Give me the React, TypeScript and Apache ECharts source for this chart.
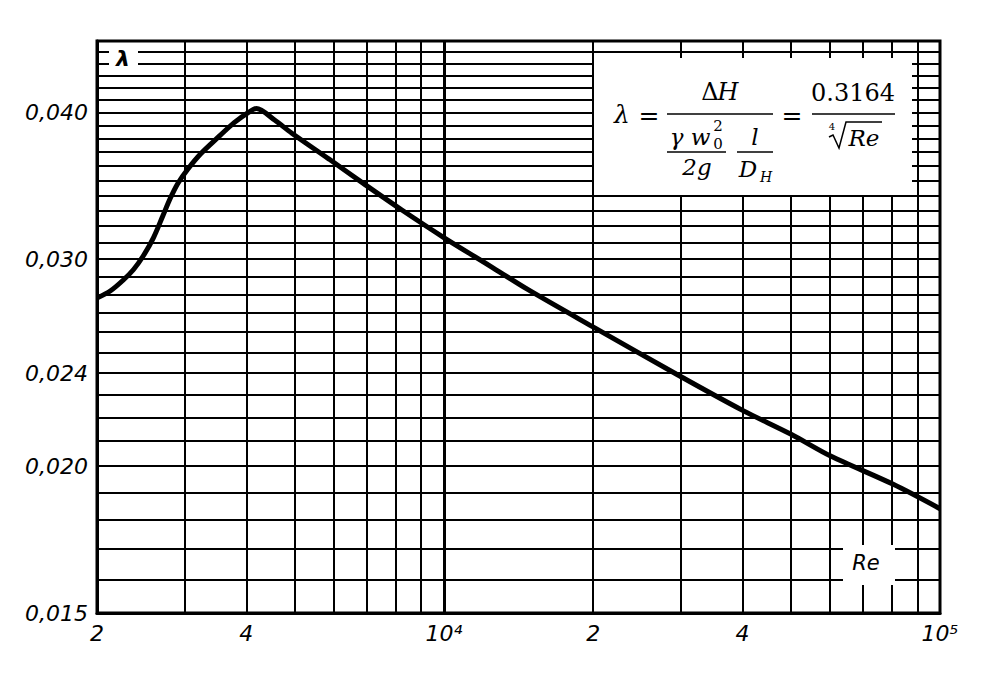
import React, { useEffect, useRef } from 'react';
import * as echarts from 'echarts';

// Reynolds number (x) and friction factor λ (y)
const reynolds = [2000, 2130, 2260, 2370, 2480, 2600, 2710, 2810, 2910, 3050, 3240, 3510, 3780, 4040, 4190, 4560, 4940, 5870, 6950, 8260, 10000, 12400, 14700, 19900, 29700, 40100, 50000, 60200, 80500, 100000];
const lambda = [0.0278, 0.0282, 0.0288, 0.0294, 0.0302, 0.0313, 0.0326, 0.0338, 0.0348, 0.0358, 0.0369, 0.0381, 0.0392, 0.0400, 0.0403, 0.0394, 0.0384, 0.0365, 0.0347, 0.0330, 0.0313, 0.0296, 0.0283, 0.0263, 0.0239, 0.0223, 0.0213, 0.0204, 0.0193, 0.0184];

// log-paper grid
const xGridValues = [2000, 3000, 4000, 5000, 6000, 7000, 8000, 9000, 10000, 20000, 30000, 40000, 50000, 60000, 70000, 80000, 90000, 100000];
const yGridValues = [0.015, 0.016, 0.017, 0.018, 0.019, 0.020, 0.021, 0.022, 0.023, 0.024, 0.025, 0.026, 0.027, 0.028, 0.029, 0.030, 0.031, 0.032, 0.033, 0.034, 0.035, 0.036, 0.037, 0.038, 0.039, 0.040, 0.041, 0.042, 0.043, 0.044, 0.045, 0.046];

// tick labels
const xTickValues = [2000, 4000, 10000, 20000, 40000, 100000];
const xTickLabels = ['2', '4', '10⁴', '2', '4', '10⁵'];
const yTickValues = [0.015, 0.020, 0.024, 0.030, 0.040];
const yTickLabels = ['0,015', '0,020', '0,024', '0,030', '0,040'];

const X_MIN = 2000;
const X_MAX = 100000;
const Y_MIN = 0.015;
const Y_MAX = 0.046;

const labelFont = '"DejaVu Sans", sans-serif';
const mathFont = '"DejaVu Serif", serif';

export default function App() {
  const ref = useRef<HTMLDivElement>(null);

  useEffect(() => {
    if (!ref.current) return;
    const chart = echarts.init(ref.current, undefined, { renderer: 'svg' });

    const tickLabel = (text: string, dist: number) => ({
      show: true,
      position: 'start',
      formatter: text,
      distance: dist,
      fontFamily: labelFont,
      fontStyle: 'italic',
      fontSize: 22,
      color: '#000',
    });

    const vLines = xGridValues.map((v) => {
      const idx = xTickValues.indexOf(v);
      return {
        xAxis: v,
        lineStyle: { width: v === 10000 ? 3 : 2 },
        label: idx >= 0 ? tickLabel(xTickLabels[idx], 9) : { show: false },
      };
    });
    const hLines = yGridValues.map((v) => {
      const idx = yTickValues.findIndex((t) => Math.abs(t - v) < 1e-9);
      return {
        yAxis: v,
        lineStyle: { width: 2 },
        label: idx >= 0 ? tickLabel(yTickLabels[idx], 9) : { show: false },
      };
    });

    const z = 50;
    const txt = (x: number, y: number, text: string, font: string) => ({
      type: 'text',
      x,
      y,
      z: z + 1,
      style: { text, font, fill: '#000', align: 'center', verticalAlign: 'middle' },
    });
    const ln = (x1: number, y1: number, x2: number, y2: number, w = 1.6) => ({
      type: 'line',
      z: z + 1,
      shape: { x1, y1, x2, y2 },
      style: { stroke: '#000', lineWidth: w },
    });

    chart.setOption({
      animation: false,
      backgroundColor: '#fff',
      textStyle: { fontFamily: labelFont },
      grid: {
        left: 97,
        right: 52,
        top: 41,
        bottom: 78,
        show: true,
        borderColor: '#000',
        borderWidth: 3,
      },
      xAxis: {
        type: 'log',
        logBase: 10,
        min: X_MIN,
        max: X_MAX,
        axisLine: { show: true, lineStyle: { color: '#000', width: 3 } },
        axisTick: { show: false },
        axisLabel: { show: false },
        splitLine: { show: false },
      },
      yAxis: {
        type: 'log',
        logBase: 10,
        min: Y_MIN,
        max: Y_MAX,
        axisLine: { show: true, lineStyle: { color: '#000', width: 3 } },
        axisTick: { show: false },
        axisLabel: { show: false },
        splitLine: { show: false },
      },
      series: [
        {
          type: 'line',
          name: 'grid',
          data: [],
          z: 1,
          silent: true,
          markLine: {
            silent: true,
            precision: 5,
            symbol: ['none', 'none'],
            animation: false,
            lineStyle: { color: '#000', type: 'solid', width: 2 },
            emphasis: { disabled: true },
            data: [...vLines, ...hLines],
          },
        },
        {
          type: 'line',
          name: 'λ',
          z: 5,
          data: reynolds.map((r, i) => [r, lambda[i]]),
          showSymbol: false,
          smooth: 0.3,
          lineStyle: { color: '#000', width: 5 },
        },
      ],
      graphic: [
        // λ label top-left
        { type: 'rect', z, shape: { x: 109, y: 45, width: 29, height: 24 }, style: { fill: '#fff' } },
        txt(123, 58, 'λ', `bold italic 22px ${labelFont}`),
        // Re label
        { type: 'rect', z, shape: { x: 843, y: 545, width: 52, height: 40 }, style: { fill: '#fff' } },
        txt(866, 563, 'Re', `italic 21px ${labelFont}`),
        // formula box
        { type: 'rect', z, shape: { x: 594, y: 58, width: 318, height: 137 }, style: { fill: '#fff' } },
        txt(622, 114, 'λ', `italic 25px ${mathFont}`),
        txt(649, 115, '=', `25px ${mathFont}`),
        ln(667, 114, 773, 114),
        txt(710, 92, 'Δ', `24px ${mathFont}`),
        txt(728, 92, 'H', `italic 24px ${mathFont}`),
        txt(690, 137, 'γ w', `italic 23px ${mathFont}`),
        txt(718, 126, '2', `15px ${mathFont}`),
        txt(718, 144, '0', `15px ${mathFont}`),
        ln(667, 152, 726, 152),
        txt(697, 167, '2g', `italic 23px ${mathFont}`),
        txt(755, 137, 'l', `italic 23px ${mathFont}`),
        ln(737, 152, 773, 152),
        txt(748, 169, 'D', `italic 23px ${mathFont}`),
        txt(766, 177, 'H', `italic 14px ${mathFont}`),
        txt(792, 115, '=', `25px ${mathFont}`),
        ln(812, 114, 895, 114),
        txt(853, 93, '0.3164', `24px ${mathFont}`),
        txt(832, 126, '4', `10px ${mathFont}`),
        {
          type: 'polyline',
          z: z + 1,
          shape: { points: [[829, 137], [833, 135], [839, 148], [846, 122], [882, 122]] },
          style: { stroke: '#000', lineWidth: 1.5, fill: null },
        },
        txt(864, 138, 'Re', `italic 23px ${mathFont}`),
      ],
    });

    return () => chart.dispose();
  }, []);

  return (
    <div
      ref={ref}
      style={{ position: 'fixed', left: 0, top: 0, width: 992, height: 691, background: '#fff' }}
    />
  );
}
